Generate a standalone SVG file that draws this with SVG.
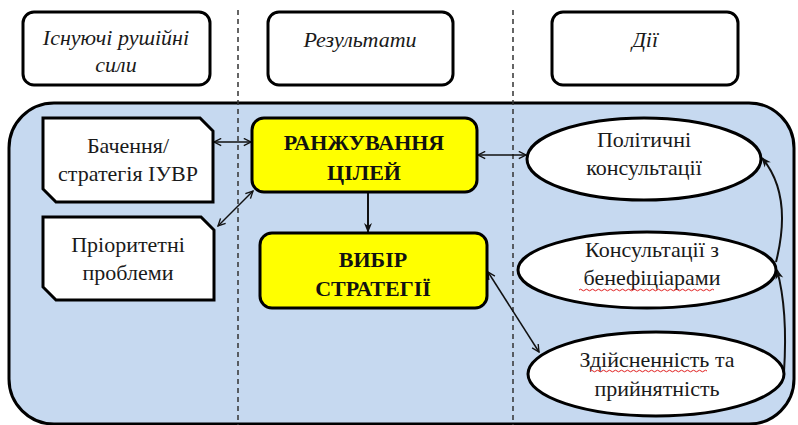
<svg xmlns="http://www.w3.org/2000/svg" width="798" height="425" viewBox="0 0 798 425">
<defs>
<style>
.hdr{fill:#fff;stroke:#000;stroke-width:3}
.snip{fill:#fff;stroke:#000;stroke-width:3;stroke-linejoin:miter}
.yel{fill:#ffff00;stroke:#000;stroke-width:3}
.ell{fill:#fff;stroke:#000;stroke-width:3}
.div{stroke:#333;stroke-width:1.5;stroke-dasharray:5 4;fill:none}
text{font-family:'Liberation Serif','Times New Roman',serif;font-size:22px;fill:#1a1a1a;text-anchor:middle}
.ti{font-style:italic}
.tb{font-weight:bold;font-size:22px;fill:#111}
.dbl{stroke:#111;stroke-width:1.5;fill:none;marker-start:url(#open);marker-end:url(#open)}
.one{stroke:#111;stroke-width:2;fill:none;marker-end:url(#solid)}
.wave{stroke:#e02020;stroke-width:1;fill:none}
</style>
<marker id="open" viewBox="0 0 10 10" refX="9" refY="5" markerWidth="9" markerHeight="9" markerUnits="userSpaceOnUse" orient="auto-start-reverse">
<path d="M1,1 L9,5 L1,9" fill="none" stroke="#111" stroke-width="1.5"/>
</marker>
<marker id="solid" viewBox="0 0 10 10" refX="9" refY="5" markerWidth="10" markerHeight="10" markerUnits="userSpaceOnUse" orient="auto">
<path d="M0,1 L10,5 L0,9 L3,5 Z" fill="#111"/>
</marker>
</defs>

<rect id="container" x="9" y="103" width="785" height="321" rx="45" fill="#c6d9f0" stroke="#000" stroke-width="3"/>

<g id="headers">
<g id="h-forces">
<rect class="hdr" x="23" y="12" width="187" height="73" rx="11"/>
<text class="ti" x="116" y="45">Існуючі рушійні</text>
<text class="ti" x="116" y="72">сили</text>
</g>
<g id="h-results">
<rect class="hdr" x="268" y="12" width="185" height="73" rx="11"/>
<text class="ti" x="360" y="47">Результати</text>
</g>
<g id="h-actions">
<rect class="hdr" x="552" y="12" width="186" height="73" rx="11"/>
<text class="ti" x="645" y="47">Дії</text>
</g>
</g>

<g id="dividers">
<line class="div" x1="238" y1="10" x2="238" y2="425"/>
<line class="div" x1="513" y1="10" x2="513" y2="425"/>
</g>

<g id="connectors">
<path class="dbl" d="M214 142 L251 142"/>
<path class="dbl" d="M218 226 L253 191"/>
<path class="dbl" d="M478 155 L526 155"/>
<path class="dbl" d="M488 272 L539 352"/>
<path class="one" d="M368 193 L368 232"/>
<path class="one" d="M784 372 Q788 310 777 270"/>
<path class="one" d="M776 262 Q793 195 762 158"/>
</g>

<g id="n-vision">
<polygon class="snip" points="43,118 200,118 213,131 213,202 56,202 43,189"/>
<text x="128" y="153">Бачення/</text>
<text x="128" y="181">стратегія ІУВР</text>
</g>
<g id="n-priority">
<polygon class="snip" points="43,217 201,217 214,230 214,300 56,300 43,287"/>
<text x="128" y="252">Пріоритетні</text>
<text x="128" y="280">проблеми</text>
</g>
<g id="n-ranking">
<rect class="yel" x="252" y="118" width="225" height="74" rx="12"/>
<text class="tb" x="364" y="150">РАНЖУВАННЯ</text>
<text class="tb" x="364" y="180">ЦІЛЕЙ</text>
</g>
<g id="n-strategy">
<rect class="yel" x="260" y="233" width="227" height="75" rx="12"/>
<text class="tb" x="373" y="267">ВИБІР</text>
<text class="tb" x="373" y="296">СТРАТЕГІЇ</text>
</g>
<g id="n-political">
<ellipse class="ell" cx="644" cy="159" rx="117" ry="41"/>
<text x="644" y="147">Політичні</text>
<text x="644" y="175">консультації</text>
</g>
<g id="n-beneficiaries">
<ellipse class="ell" cx="647" cy="270" rx="129" ry="38"/>
<text x="652" y="257">Консультації з</text>
<text x="652" y="285">бенефіціарами</text>
<path class="wave" d="M579 290 q1.5 -1.6 3 0 t3 0 t3 0 t3 0 t3 0 t3 0 t3 0 t3 0 t3 0 t3 0 t3 0 t3 0 t3 0 t3 0 t3 0 t3 0 t3 0 t3 0 t3 0 t3 0 t3 0 t3 0 t3 0 t3 0 t3 0 t3 0 t3 0 t3 0 t3 0 t3 0 t3 0 t3 0 t3 0 t3 0 t3 0 t3 0 t3 0 t3 0 t3 0 t3 0 t3 0 t3 0 t3 0 t3 0 t3 0"/>
</g>
<g id="n-feasibility">
<ellipse class="ell" cx="656" cy="374" rx="128" ry="42"/>
<text x="657" y="367">Здійсненність та</text>
<text x="657" y="396">прийнятність</text>
<path class="wave" d="M590 371 q1.5 -1.6 3 0 t3 0 t3 0 t3 0 t3 0 t3 0 t3 0 t3 0 t3 0 t3 0 t3 0 t3 0 t3 0 t3 0 t3 0 t3 0 t3 0 t3 0 t3 0 t3 0 t3 0 t3 0 t3 0 t3 0 t3 0 t3 0 t3 0 t3 0 t3 0 t3 0 t3 0 t3 0 t3 0 t3 0 t3 0 t3 0 t3 0 t3 0 t3 0"/>
</g>
</svg>
